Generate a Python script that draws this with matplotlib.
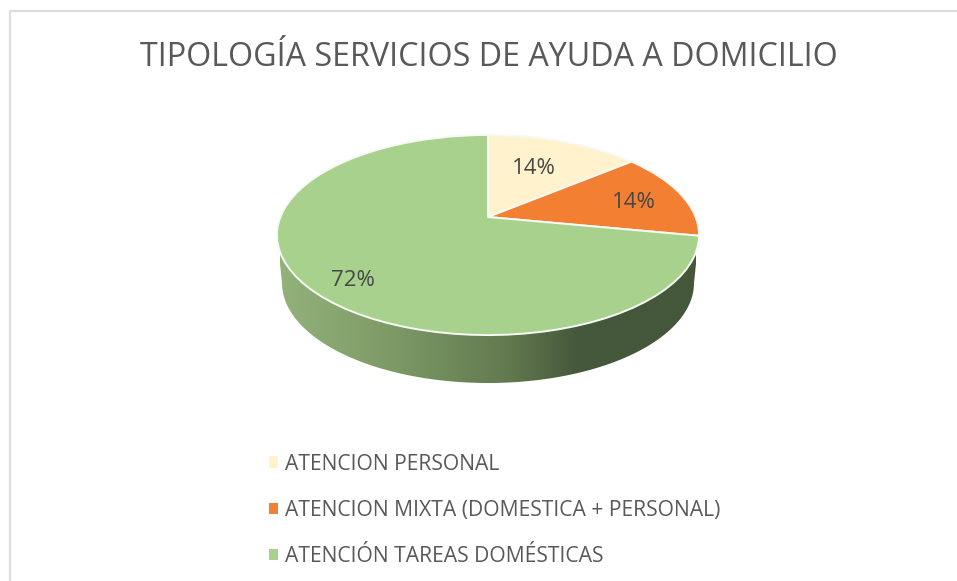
import numpy as np
import matplotlib
matplotlib.use("Agg")
import matplotlib.pyplot as plt
from matplotlib.path import Path
from matplotlib.transforms import Transform
from matplotlib.colors import LinearSegmentedColormap

title = "TIPOLOGÍA SERVICIOS DE AYUDA A DOMICILIO"
categories = ["ATENCION PERSONAL", "ATENCION MIXTA (DOMESTICA + PERSONAL)", "ATENCIÓN TAREAS DOMÉSTICAS"]
shares = [14, 14, 72]
colors = ["#FFF2CC", "#F37F32", "#A9D18E"]
TEXT = "#595959"
FONT = "Open Sans"


class Perspective(Transform):
    """Unit-circle pie coordinates to picture pixels, tilted as in a 3-D pie."""
    input_dims = output_dims = 2
    is_separable = False
    has_inverse = False

    def __init__(self, x0, y0, rx, ry, k):
        super().__init__()
        self.x0, self.y0, self.rx, self.ry, self.k = x0, y0, rx, ry, k

    def transform_non_affine(self, values):
        u, v = values[:, 0], values[:, 1]
        d = 1 + self.k * v
        return np.column_stack([self.x0 + self.rx * u / d, self.y0 - self.ry * v / d])


fig = plt.figure(figsize=(9.57, 5.81), dpi=100, facecolor="white")
ax = fig.add_axes([0, 0, 1, 1])

wedges, _, autotexts = ax.pie(
    shares, startangle=90, counterclock=False, colors=colors, autopct="%.0f%%",
    wedgeprops={"edgecolor": "#F7FAF4", "linewidth": 1.4},
    textprops={"family": FONT, "color": "#474747", "fontsize": 16},
)
ax.set_aspect("auto")
ax.set_xlim(0, 957)
ax.set_ylim(581, 0)
ax.axis("off")

persp = Perspective(488, 217, 207.6, 96.8, 0.18)
for w in wedges:
    w.set_transform(persp + ax.transData)
    w.set_zorder(3)
for t, pos in zip(autotexts, [(534, 168), (634, 202), (353, 281)]):
    t.set_position(pos)
    t.set_ha("center")
    t.set_va("center")
    t.set_zorder(4)

# side wall of the disc, with its metallic shading
th = np.linspace(np.pi, 2 * np.pi, 120)
wall = np.vstack([
    np.column_stack([488 + 206 * np.cos(th), 283 - 100 * np.sin(th)]),
    [[699, 235], [277, 235]],
])
wall_path = Path(np.vstack([wall, wall[0]]), closed=True)
shade = LinearSegmentedColormap.from_list(
    "wall", [(0, "#93B27A"), (0.25, "#7F9C68"), (0.55, "#62794F"), (0.72, "#45573A"), (1, "#46583A")]
)
im = ax.imshow(np.linspace(0, 1, 256)[None, :], cmap=shade, aspect="auto",
               extent=(280, 696, 385, 230), zorder=1)
im.set_clip_path(wall_path, transform=ax.transData)
ax.set_xlim(0, 957)
ax.set_ylim(581, 0)

# chart frame (top and left edges are visible in the crop)
ax.plot([9.5, 9.5, 957], [581, 10.5, 10.5], color="#DEDEDE", lw=1.6, zorder=0, clip_on=False)

ax.text(489, 57, title, ha="center", va="center", family=FONT, fontsize=23.2, color=TEXT)

leg = ax.legend(
    wedges, categories, loc="upper left", bbox_to_anchor=(269 / 957, 1 - 453.5 / 581),
    frameon=False, borderpad=0, borderaxespad=0, handlelength=0.43, handleheight=0.43,
    handletextpad=0.33, labelspacing=1.19,
    prop={"family": FONT, "size": 15.2},
)
for t in leg.get_texts():
    t.set_color(TEXT)
for h in leg.get_patches():
    h.set_edgecolor("none")

fig.savefig("out.png", dpi=100)
